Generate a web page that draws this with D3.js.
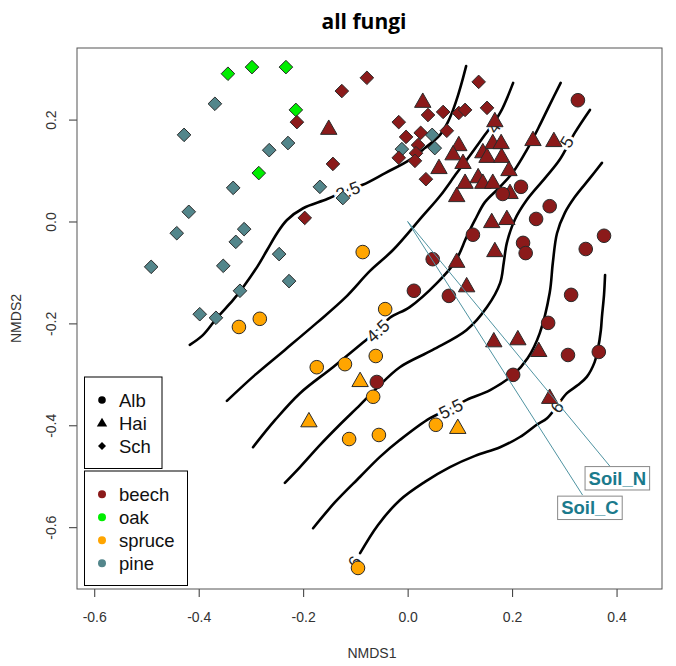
<!DOCTYPE html>
<html><head><meta charset="utf-8">
<script src="https://cdn.jsdelivr.net/npm/d3@7"></script>
<style>body{margin:0;background:#fff} svg{display:block}</style>
</head><body>
<svg id="chart" width="676" height="666"></svg>
<script>
// ---------------- DATA ----------------
const xTicks = [-0.6, -0.4, -0.2, 0.0, 0.2, 0.4];
const yTicks = [-0.6, -0.4, -0.2, 0.0, 0.2];

const sites = ["Alb", "Hai", "Sch"];
const forests = ["beech", "oak", "spruce", "pine"];
const forestColors = ["#8b1a1a", "#00ee00", "#ffa500", "#53868b"];

// site scores (NMDS1, NMDS2)
const beechAlb = [[0.326,0.238],[0.217,0.068],[0.182,0.054],[0.272,0.030],[0.246,0.005],[0.125,-0.026],[0.221,-0.042],[0.376,-0.028],[0.341,-0.054],[0.226,-0.062],[0.048,-0.074],[0.012,-0.136],[0.079,-0.146],[0.313,-0.144],[0.269,-0.199],[0.307,-0.262],[0.366,-0.256],[0.202,-0.301],[-0.059,-0.315]];
const beechHai = [[0.029,0.235],[-0.151,0.182],[0.167,0.197],[0.098,0.150],[0.087,0.132],[0.106,0.115],[0.060,0.105],[0.163,0.154],[0.179,0.154],[0.144,0.136],[0.152,0.127],[0.180,0.127],[0.194,0.101],[0.135,0.087],[0.110,0.076],[0.144,0.076],[0.163,0.076],[0.094,0.050],[0.196,0.056],[0.240,0.160],[0.280,0.158],[0.161,-0.001],[0.190,0.005],[0.167,-0.058],[0.094,-0.079],[0.113,-0.127],[0.165,-0.235],[0.211,-0.231],[0.251,-0.254],[0.272,-0.346]];
const beechSch = [[-0.126,0.256],[-0.078,0.282],[-0.212,0.195],[-0.143,0.113],[-0.197,0.007],[0.136,0.274],[0.039,0.209],[0.068,0.215],[-0.017,0.195],[0.098,0.213],[0.110,0.219],[0.152,0.223],[-0.003,0.166],[0.025,0.174],[0.075,0.178],[0.020,0.150],[0.016,0.134],[-0.017,0.125],[0.014,0.119],[0.035,0.083]];
const oakSch = [[-0.344,0.290],[-0.298,0.303],[-0.233,0.303],[-0.214,0.219],[-0.285,0.095]];
const spruceAlb = [[-0.086,-0.060],[-0.323,-0.207],[-0.283,-0.191],[-0.043,-0.172],[-0.061,-0.264],[-0.174,-0.286],[-0.120,-0.280],[-0.066,-0.344],[-0.112,-0.427],[-0.055,-0.419],[0.054,-0.399],[-0.095,-0.680]];
const spruceHai = [[-0.091,-0.313],[-0.189,-0.392],[0.096,-0.405]];
const pineSch = [[-0.369,0.231],[-0.428,0.170],[-0.265,0.140],[-0.229,0.154],[-0.334,0.066],[-0.168,0.068],[-0.124,0.046],[-0.419,0.019],[-0.442,-0.023],[-0.313,-0.015],[-0.329,-0.040],[-0.491,-0.089],[-0.353,-0.087],[-0.246,-0.064],[-0.227,-0.117],[-0.321,-0.136],[-0.398,-0.182],[-0.367,-0.189],[0.047,0.170],[-0.011,0.142],[0.052,0.144]];

// ordisurf contour lines
const contourLevels = [3.5, 4, 4.5, 5, 5.5, 6];
const contour35 = [[-0.417,-0.242],[-0.392,-0.223],[-0.365,-0.189],[-0.334,-0.154],[-0.315,-0.129],[-0.288,-0.089],[-0.269,-0.056],[-0.250,-0.023],[-0.231,0.003],[-0.200,0.026],[-0.154,0.044],[-0.120,0.060],[-0.086,0.072],[-0.043,0.095],[0.004,0.121],[0.033,0.144],[0.062,0.170],[0.077,0.195],[0.087,0.219],[0.096,0.246],[0.104,0.274],[0.112,0.305]];
const contour40 = [[-0.346,-0.352],[-0.292,-0.301],[-0.235,-0.252],[-0.174,-0.199],[-0.120,-0.150],[-0.072,-0.097],[-0.028,-0.056],[0.029,0.011],[0.062,0.050],[0.094,0.095],[0.119,0.129],[0.148,0.170],[0.177,0.213],[0.202,0.272]];
const contour45 = [[-0.296,-0.443],[-0.254,-0.390],[-0.206,-0.337],[-0.143,-0.286],[-0.086,-0.238],[-0.057,-0.213],[-0.034,-0.189],[0.004,-0.168],[0.056,-0.121],[0.091,-0.079],[0.113,-0.030],[0.129,0.003],[0.148,0.038],[0.177,0.068],[0.202,0.097],[0.228,0.140],[0.253,0.189],[0.272,0.229],[0.293,0.272]];
const contour50 = [[-0.235,-0.513],[-0.206,-0.482],[-0.168,-0.439],[-0.130,-0.399],[-0.091,-0.360],[-0.059,-0.327],[-0.015,-0.286],[0.048,-0.252],[0.113,-0.213],[0.152,-0.168],[0.177,-0.121],[0.184,-0.081],[0.190,-0.042],[0.205,0.003],[0.228,0.042],[0.263,0.085],[0.291,0.121],[0.320,0.174],[0.349,0.219]];
const contour55 = [[-0.181,-0.602],[-0.139,-0.551],[-0.091,-0.501],[-0.053,-0.462],[-0.015,-0.429],[0.043,-0.386],[0.081,-0.368],[0.113,-0.350],[0.158,-0.331],[0.202,-0.301],[0.230,-0.268],[0.253,-0.219],[0.272,-0.140],[0.278,-0.081],[0.286,-0.023],[0.301,0.017],[0.320,0.048],[0.349,0.085],[0.372,0.115]];
const contour60 = [[-0.091,-0.651],[-0.057,-0.596],[-0.015,-0.547],[0.033,-0.511],[0.081,-0.482],[0.129,-0.460],[0.177,-0.443],[0.215,-0.423],[0.247,-0.399],[0.267,-0.386],[0.286,-0.362],[0.305,-0.337],[0.326,-0.321],[0.343,-0.305],[0.358,-0.276],[0.364,-0.252],[0.370,-0.213],[0.372,-0.187],[0.376,-0.144],[0.378,-0.105]];
const contours = [contour35, contour40, contour45, contour50, contour55, contour60];

const contourLabels = [
  {level: 3.5, x: -0.114, y: 0.060},
  {level: 4,   x: 0.165,  y: 0.185},
  {level: 4.5, x: -0.057, y: -0.215},
  {level: 5,   x: 0.305,  y: 0.156},
  {level: 5.5, x: 0.083,  y: -0.368},
  {level: 6,   x: 0.286,  y: -0.364},
  {level: 6,   x: -0.101, y: -0.668}
];

// envfit vectors
const vectorNames = ["Soil_N", "Soil_C"];
const vectorEnds = [[0.387, -0.480], [0.335, -0.537]];
const vectorLabelPos = [[0.4015, -0.504], [0.349, -0.562]];

// ---------------- DRAW ----------------
const svg = d3.select("#chart");
const L = 77, R = 662, T = 48, B = 589;
const x = d3.scaleLinear().domain([-0.633, 0.487]).range([L, R]);
const y = d3.scaleLinear().domain([-0.7213, 0.3405]).range([B, T]);
const font = "'Liberation Sans', Arial, sans-serif";

// title
svg.append("text").attr("x", 364).attr("y", 29).attr("text-anchor", "middle")
  .attr("font-family", "'Open Sans', sans-serif").attr("font-weight", "bold")
  .attr("font-size", 21).attr("fill", "#000").text("all fungi");

// axes
const xAxis = d3.axisBottom(x).tickValues(xTicks).tickFormat(d => d.toFixed(1)).tickSize(8).tickPadding(15);
const gx = svg.append("g").attr("transform", `translate(0,${B})`).call(xAxis);
gx.select(".domain").remove();
gx.selectAll("line").attr("stroke", "#333");
gx.selectAll("text").attr("font-family", font).attr("font-size", 14).attr("fill", "#333");

const yAxis = d3.axisLeft(y).tickValues(yTicks).tickFormat(d => d.toFixed(1)).tickSize(8);
const gy = svg.append("g").attr("transform", `translate(${L},0)`).call(yAxis);
gy.select(".domain").remove();
gy.selectAll("line").attr("stroke", "#333");
gy.selectAll("text").attr("x", null).attr("dy", null)
  .attr("transform", "translate(-26,0) rotate(-90)")
  .attr("text-anchor", "middle").attr("dominant-baseline", "central")
  .attr("font-family", font).attr("font-size", 14).attr("fill", "#333");

svg.append("text").attr("x", 372).attr("y", 653).attr("text-anchor", "middle")
  .attr("dominant-baseline", "central").attr("font-family", font).attr("font-size", 14)
  .attr("fill", "#333").text("NMDS1");
svg.append("text").attr("transform", `translate(16,${(T + B) / 2}) rotate(-90)`)
  .attr("text-anchor", "middle").attr("dominant-baseline", "central")
  .attr("font-family", font).attr("font-size", 14).attr("fill", "#333").text("NMDS2");

// clip
svg.append("clipPath").attr("id", "clip").append("rect")
  .attr("x", L).attr("y", T).attr("width", R - L).attr("height", B - T);
const plot = svg.append("g").attr("clip-path", "url(#clip)");

// contours
const line = d3.line().x(d => x(d[0])).y(d => y(d[1])).curve(d3.curveCatmullRom.alpha(0.5));
plot.selectAll("path.contour").data(contours).join("path")
  .attr("class", "contour").attr("d", line)
  .attr("fill", "none").attr("stroke", "#000").attr("stroke-width", 2.6)
  .attr("stroke-linecap", "round");

// contour labels, rotated along the line
contourLabels.forEach(lab => {
  const pts = contours[contourLevels.indexOf(lab.level)];
  let best = 0, bd = Infinity;
  pts.forEach((p, i) => {
    const d = (x(p[0]) - x(lab.x)) ** 2 + (y(p[1]) - y(lab.y)) ** 2;
    if (d < bd) { bd = d; best = i; }
  });
  const a = pts[Math.max(0, best - 1)], b = pts[Math.min(pts.length - 1, best + 1)];
  let ang = Math.atan2(y(b[1]) - y(a[1]), x(b[0]) - x(a[0])) * 180 / Math.PI;
  if (ang > 90) ang -= 180;
  if (ang < -90) ang += 180;
  plot.append("text")
    .attr("transform", `translate(${x(lab.x)},${y(lab.y)}) rotate(${ang})`)
    .attr("text-anchor", "middle").attr("dominant-baseline", "central")
    .attr("font-family", font).attr("font-size", 17.5).attr("fill", "#222")
    .attr("stroke", "#fff").attr("stroke-width", 6).attr("paint-order", "stroke")
    .text(String(lab.level));
});

// symbols
const shapes = {
  circle: (g) => g.append("circle").attr("r", 6.8),
  triangle: (g) => g.append("path").attr("d", "M0,-8.8L8.2,5.6L-8.2,5.6Z"),
  diamond: (g) => g.append("path").attr("d", "M0,-6.8L6.8,0L0,6.8L-6.8,0Z")
};
function drawPts(data, shape, color) {
  data.forEach(d => {
    const g = plot.append("g").attr("transform", `translate(${x(d[0])},${y(d[1])})`);
    shapes[shape](g).attr("fill", color).attr("stroke", "#2a2a2a").attr("stroke-width", 1);
  });
}
drawPts(pineSch, "diamond", forestColors[3]);
drawPts(oakSch, "diamond", forestColors[1]);
drawPts(beechSch, "diamond", forestColors[0]);
drawPts(beechHai, "triangle", forestColors[0]);
drawPts(beechAlb, "circle", forestColors[0]);
drawPts(spruceAlb, "circle", forestColors[2]);
drawPts(spruceHai, "triangle", forestColors[2]);

// envfit vectors
vectorEnds.forEach(v => {
  plot.append("line").attr("x1", x(0)).attr("y1", y(0)).attr("x2", x(v[0])).attr("y2", y(v[1]))
    .attr("stroke", "#4f93a1").attr("stroke-width", 1);
});
vectorNames.forEach((n, i) => {
  const p = vectorLabelPos[i];
  const g = plot.append("g").attr("transform", `translate(${x(p[0])},${y(p[1])})`);
  const rect = g.append("rect").attr("fill", "#fff").attr("stroke", "#888").attr("stroke-width", 1);
  const t = g.append("text").attr("text-anchor", "middle").attr("dominant-baseline", "central")
    .attr("font-family", font).attr("font-weight", "bold").attr("font-size", 18.5)
    .attr("fill", "#1b7a8c").text(n);
  const bb = t.node().getBBox();
  rect.attr("x", bb.x - 3.5).attr("y", -11.7).attr("width", bb.width + 7).attr("height", 23.4);
});

// frame
svg.append("rect").attr("x", L).attr("y", T).attr("width", R - L).attr("height", B - T)
  .attr("fill", "none").attr("stroke", "#555").attr("stroke-width", 1);

// legends
const lg1 = svg.append("g");
lg1.append("rect").attr("x", 84.5).attr("y", 377).attr("width", 77.5).attr("height", 91.5)
  .attr("fill", "#fff").attr("stroke", "#000");
const symPaths = {
  Alb: "M3.8,0A3.8,3.8 0 1,1 -3.8,0A3.8,3.8 0 1,1 3.8,0Z",
  Hai: "M0,-5.2L5.2,3.6L-5.2,3.6Z",
  Sch: "M0,-4L4,0L0,4L-4,0Z"
};
sites.forEach((s, i) => {
  const yy = 400 + i * 23;
  lg1.append("path").attr("d", symPaths[s]).attr("transform", `translate(102,${yy})`).attr("fill", "#000");
  lg1.append("text").attr("x", 119).attr("y", yy).attr("dominant-baseline", "central")
    .attr("font-family", font).attr("font-size", 18.5).attr("fill", "#111").text(s);
});
const lg2 = svg.append("g");
lg2.append("rect").attr("x", 84.5).attr("y", 471).attr("width", 103).attr("height", 114.5)
  .attr("fill", "#fff").attr("stroke", "#000");
forests.forEach((f, i) => {
  const yy = 494.3 + i * 23;
  lg2.append("circle").attr("cx", 102).attr("cy", yy).attr("r", 4).attr("fill", forestColors[i]);
  lg2.append("text").attr("x", 119).attr("y", yy).attr("dominant-baseline", "central")
    .attr("font-family", font).attr("font-size", 18.5).attr("fill", "#111").text(f);
});
</script></body></html>
